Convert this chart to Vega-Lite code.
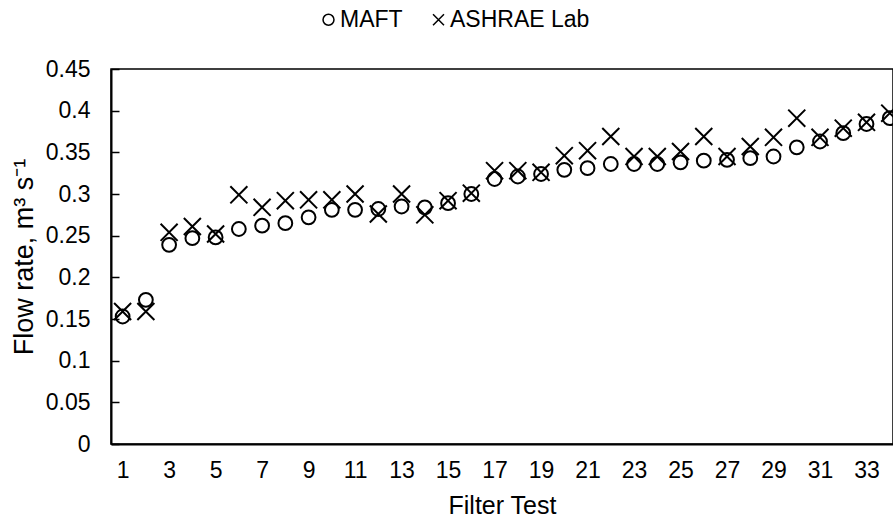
{
  "$schema": "https://vega.github.io/schema/vega-lite/v6.json",
  "width": 782,
  "height": 375,
  "autosize": {"type": "none"},
  "padding": {"left": 111, "top": 69, "right": 0, "bottom": 77},
  "background": "white",
  "data": {
    "values": [
      {"test": 1, "series": "MAFT", "flow": 0.153}, {"test": 1, "series": "ASHRAE Lab", "flow": 0.159},
      {"test": 2, "series": "MAFT", "flow": 0.173}, {"test": 2, "series": "ASHRAE Lab", "flow": 0.159},
      {"test": 3, "series": "MAFT", "flow": 0.239}, {"test": 3, "series": "ASHRAE Lab", "flow": 0.254},
      {"test": 4, "series": "MAFT", "flow": 0.247}, {"test": 4, "series": "ASHRAE Lab", "flow": 0.261},
      {"test": 5, "series": "MAFT", "flow": 0.248}, {"test": 5, "series": "ASHRAE Lab", "flow": 0.252},
      {"test": 6, "series": "MAFT", "flow": 0.258}, {"test": 6, "series": "ASHRAE Lab", "flow": 0.299},
      {"test": 7, "series": "MAFT", "flow": 0.262}, {"test": 7, "series": "ASHRAE Lab", "flow": 0.284},
      {"test": 8, "series": "MAFT", "flow": 0.265}, {"test": 8, "series": "ASHRAE Lab", "flow": 0.292},
      {"test": 9, "series": "MAFT", "flow": 0.272}, {"test": 9, "series": "ASHRAE Lab", "flow": 0.293},
      {"test": 10, "series": "MAFT", "flow": 0.281}, {"test": 10, "series": "ASHRAE Lab", "flow": 0.293},
      {"test": 11, "series": "MAFT", "flow": 0.281}, {"test": 11, "series": "ASHRAE Lab", "flow": 0.3},
      {"test": 12, "series": "MAFT", "flow": 0.282}, {"test": 12, "series": "ASHRAE Lab", "flow": 0.276},
      {"test": 13, "series": "MAFT", "flow": 0.285}, {"test": 13, "series": "ASHRAE Lab", "flow": 0.3},
      {"test": 14, "series": "MAFT", "flow": 0.284}, {"test": 14, "series": "ASHRAE Lab", "flow": 0.275},
      {"test": 15, "series": "MAFT", "flow": 0.289}, {"test": 15, "series": "ASHRAE Lab", "flow": 0.292},
      {"test": 16, "series": "MAFT", "flow": 0.3}, {"test": 16, "series": "ASHRAE Lab", "flow": 0.301},
      {"test": 17, "series": "MAFT", "flow": 0.318}, {"test": 17, "series": "ASHRAE Lab", "flow": 0.328},
      {"test": 18, "series": "MAFT", "flow": 0.321}, {"test": 18, "series": "ASHRAE Lab", "flow": 0.328},
      {"test": 19, "series": "MAFT", "flow": 0.324}, {"test": 19, "series": "ASHRAE Lab", "flow": 0.326},
      {"test": 20, "series": "MAFT", "flow": 0.329}, {"test": 20, "series": "ASHRAE Lab", "flow": 0.346},
      {"test": 21, "series": "MAFT", "flow": 0.331}, {"test": 21, "series": "ASHRAE Lab", "flow": 0.352},
      {"test": 22, "series": "MAFT", "flow": 0.336}, {"test": 22, "series": "ASHRAE Lab", "flow": 0.369},
      {"test": 23, "series": "MAFT", "flow": 0.336}, {"test": 23, "series": "ASHRAE Lab", "flow": 0.345},
      {"test": 24, "series": "MAFT", "flow": 0.336}, {"test": 24, "series": "ASHRAE Lab", "flow": 0.345},
      {"test": 25, "series": "MAFT", "flow": 0.338}, {"test": 25, "series": "ASHRAE Lab", "flow": 0.351},
      {"test": 26, "series": "MAFT", "flow": 0.34}, {"test": 26, "series": "ASHRAE Lab", "flow": 0.369},
      {"test": 27, "series": "MAFT", "flow": 0.341}, {"test": 27, "series": "ASHRAE Lab", "flow": 0.345},
      {"test": 28, "series": "MAFT", "flow": 0.343}, {"test": 28, "series": "ASHRAE Lab", "flow": 0.357},
      {"test": 29, "series": "MAFT", "flow": 0.345}, {"test": 29, "series": "ASHRAE Lab", "flow": 0.368},
      {"test": 30, "series": "MAFT", "flow": 0.356}, {"test": 30, "series": "ASHRAE Lab", "flow": 0.391},
      {"test": 31, "series": "MAFT", "flow": 0.363}, {"test": 31, "series": "ASHRAE Lab", "flow": 0.368},
      {"test": 32, "series": "MAFT", "flow": 0.373}, {"test": 32, "series": "ASHRAE Lab", "flow": 0.379},
      {"test": 33, "series": "MAFT", "flow": 0.384}, {"test": 33, "series": "ASHRAE Lab", "flow": 0.386},
      {"test": 34, "series": "MAFT", "flow": 0.391}, {"test": 34, "series": "ASHRAE Lab", "flow": 0.397}
    ]
  },
  "encoding": {
    "x": {
      "field": "test",
      "type": "quantitative",
      "scale": {"domain": [0.5, 34.14], "nice": false, "zero": false},
      "axis": {
        "values": [1, 3, 5, 7, 9, 11, 13, 15, 17, 19, 21, 23, 25, 27, 29, 31, 33],
        "title": "Filter Test",
        "grid": false,
        "ticks": false,
        "labelPadding": 15,
        "titlePadding": 11,
        "titleFontSize": 25,
        "labelFlush": false,
        "labelOverlap": false
      }
    },
    "y": {
      "field": "flow",
      "type": "quantitative",
      "scale": {"domain": [0, 0.45], "nice": false},
      "axis": {
        "values": [0, 0.05, 0.1, 0.15, 0.2, 0.25, 0.3, 0.35, 0.4, 0.45],
        "format": "~g",
        "title": "Flow rate, m³ s⁻¹",
        "grid": false,
        "tickSize": -8,
        "tickWidth": 1.5,
        "tickColor": "black",
        "labelPadding": 29,
        "titlePadding": 7,
        "titleFontSize": 27,
        "labelFlush": false,
        "labelOverlap": false
      }
    },
    "shape": {
      "field": "series",
      "type": "nominal",
      "scale": {"domain": ["MAFT", "ASHRAE Lab"], "range": ["circle", "M-1,-1L1,1M-1,1L1,-1"]},
      "legend": {
        "title": null,
        "orient": "none",
        "direction": "horizontal",
        "legendX": 206,
        "legendY": -61,
        "symbolSize": 120,
        "symbolStrokeWidth": 1.5,
        "symbolStrokeColor": "black",
        "symbolFillColor": "transparent",
        "labelFontSize": 23,
        "labelColor": "black",
        "labelOffset": 0,
        "columnPadding": 24,
        "symbolOffset": 0
      }
    }
  },
  "layer": [
    {
      "transform": [{"filter": "datum.series === 'MAFT'"}],
      "mark": {"type": "point", "filled": false, "strokeWidth": 2, "color": "black", "opacity": 1, "size": 190}
    },
    {
      "transform": [{"filter": "datum.series === 'ASHRAE Lab'"}],
      "mark": {"type": "point", "filled": false, "strokeWidth": 2, "color": "black", "opacity": 1, "size": 290}
    }
  ],
  "config": {
    "font": "Liberation Sans",
    "view": {"stroke": "black", "strokeWidth": 1.5},
    "axis": {
      "domainColor": "black",
      "domainWidth": 2,
      "labelColor": "black",
      "labelFontSize": 23,
      "titleColor": "black",
      "titleFontWeight": "normal",
      "labelFont": "Liberation Sans",
      "titleFont": "Liberation Sans"
    },
    "legend": {"labelFont": "Liberation Sans"}
  }
}
